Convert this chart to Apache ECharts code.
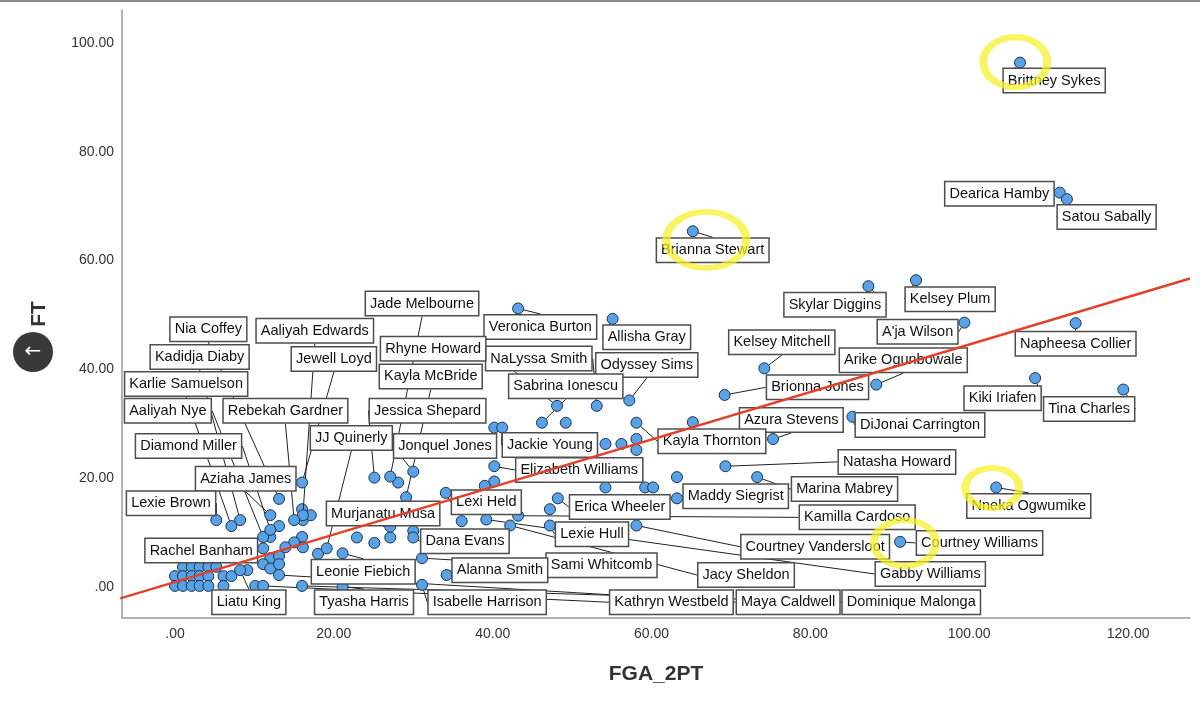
<!DOCTYPE html>
<html>
<head>
<meta charset="utf-8">
<script src="https://cdn.jsdelivr.net/npm/echarts@6/dist/echarts.min.js"></script>
<style>
html,body{margin:0;padding:0;background:#fff;}
#chart{width:1200px;height:708px;}
</style>
</head>
<body>
<div id="chart"></div>
<script>
// ---------- DATA ----------
const labeledNames = [
  "Brittney Sykes","Dearica Hamby","Satou Sabally","Brianna Stewart","Skylar Diggins","Kelsey Plum",
  "A'ja Wilson","Napheesa Collier","Kelsey Mitchell","Arike Ogunbowale","Brionna Jones","Kiki Iriafen",
  "Tina Charles","Azura Stevens","DiJonai Carrington","Kayla Thornton","Natasha Howard","Marina Mabrey",
  "Maddy Siegrist","Kamilla Cardoso","Nneka Ogwumike","Courtney Vandersloot","Courtney Williams","Jacy Sheldon",
  "Gabby Williams","Maya Caldwell","Dominique Malonga","Kathryn Westbeld","Jade Melbourne","Veronica Burton",
  "Allisha Gray","NaLyssa Smith","Odyssey Sims","Sabrina Ionescu","Rhyne Howard","Kayla McBride",
  "Jessica Shepard","Jonquel Jones","Jackie Young","Elizabeth Williams","Lexi Held","Erica Wheeler",
  "Lexie Hull","Dana Evans","Sami Whitcomb","Alanna Smith","Isabelle Harrison","Murjanatu Musa",
  "Leonie Fiebich","Tyasha Harris","JJ Quinerly","Jewell Loyd","Aaliyah Edwards","Nia Coffey",
  "Kadidja Diaby","Karlie Samuelson","Aaliyah Nye","Rebekah Gardner","Diamond Miller","Aziaha James",
  "Lexie Brown","Rachel Banham","Liatu King"
];
const labeledFGA2PT = [
  106.4,111.4,112.3,65.2,87.3,93.3,
  99.4,113.4,74.2,88.3,69.2,108.3,
  119.4,75.3,85.3,58.1,69.3,73.3,
  63.2,43.2,103.4,58.1,91.3,42.2,
  39.2,13.1,16.0,11.1,27.1,43.2,
  55.1,53.1,57.2,46.2,48.1,29.1,
  25.1,30.0,41.2,40.2,34.1,48.2,
  47.2,30.0,31.1,34.2,31.1,27.1,
  21.1,21.1,19.1,16.0,16.1,13.1,
  8.2,7.1,11.1,15.0,12.0,12.0,
  5.2,11.1,8.2
];
const labeledFT = [
  96.4,72.5,71.3,65.4,55.3,56.4,
  48.6,48.5,40.2,37.2,35.3,38.4,
  36.3,27.2,31.3,30.2,22.2,20.2,
  16.3,13.1,18.3,11.3,8.3,11.3,
  12.4,2.2,0.2,0.2,20.3,51.2,
  49.3,33.3,34.3,30.2,33.3,16.5,
  20.1,21.2,29.3,22.2,17.3,16.3,
  11.3,9.1,5.3,2.2,0.4,11.1,
  6.2,0.1,7.1,19.2,13.2,16.2,
  12.3,11.2,9.2,12.3,10.5,13.2,
  12.3,7.1,3.1
];
// where each name box sits (centre, in axis units)
const labelBoxFGA2PT = [
  110.7,103.8,117.3,67.7,83.1,97.6,
  93.5,113.4,76.4,91.7,80.9,104.2,
  115.1,77.6,93.8,67.6,90.9,84.3,
  70.6,85.9,107.5,80.6,101.3,71.9,
  95.1,77.2,92.7,62.5,31.1,46.0,
  59.4,45.8,59.4,49.2,32.5,32.2,
  31.8,34.0,47.2,50.9,39.2,56.0,
  52.5,36.5,53.7,40.9,39.3,26.2,
  23.7,23.8,22.2,20.0,17.6,4.2,
  3.1,1.4,-0.9,13.9,1.7,8.9,
  -0.5,3.3,9.3
];
const labelBoxFT = [
  93.1,72.3,68.0,61.9,51.9,52.9,
  46.9,44.7,45.0,41.7,36.7,34.7,
  32.7,30.7,29.8,26.8,23.0,18.0,
  16.7,12.8,14.9,7.4,8.1,2.2,
  2.4,-2.8,-2.8,-2.8,52.1,47.8,
  45.9,42.0,40.8,36.9,43.8,38.7,
  32.4,25.9,26.1,21.5,15.6,14.7,
  9.7,8.4,4.0,3.1,-2.8,13.5,
  2.8,-2.8,27.4,41.9,47.1,47.4,
  42.3,37.3,32.4,32.4,25.9,19.9,
  15.4,6.7,-2.8
];
const otherFGA2PT = [
  1,2.1,3.1,4.2,5.2,
  0,1,2.1,3.1,4.2,6.1,7.1,9.1,
  0,1,2.1,3.1,4.2,6.1,10.1,
  16.0,16.1,17.1,13.1,12.0,16.0,15.0,16.1,13.9,
  12.0,13.1,11.1,12.0,13.1,18.0,22.9,25.1,27.1,30.0,
  28.1,36.1,40.2,49.2,54.2,56.2,58.1,58.1,40.2,39.0,
  63.2,54.2,59.2,60.2,47.2,65.2
];
const otherFT = [
  3.7,3.7,3.7,3.7,3.7,
  2.0,2.0,2.0,2.0,2.0,2.0,2.0,3.1,
  0.2,0.2,0.2,0.2,0.2,0.2,0.2,
  14.3,12.3,13.2,11.2,9.2,9.2,8.2,7.3,7.3,
  5.3,5.7,4.2,3.4,4.2,6.1,9.1,8.1,9.1,10.3,
  19.2,12.1,29.3,30.2,26.3,26.3,27.2,25.2,19.4,18.6,
  20.2,18.3,18.3,18.3,14.3,30.3
];
const fitLineFGA2PT = [-6.9, 127.8];
const fitLineFT = [-2.1, 56.7];
// hand-drawn yellow marks (centres, axis units)
const markFGA2PT = [105.8, 66.9, 102.9, 91.9];
const markFT = [96.5, 63.8, 18.2, 8.1];
const xTicks = [0,20,40,60,80,100,120];
const yTicks = [0,20,40,60,80,100];

// ---------- CHART ----------
const X_MIN = -6.675, X_MAX = 127.8, Y_MIN = -5.7, Y_MAX = 106.07;
const GRID = {left:122, right:10, top:10, bottom:90};
const chart = echarts.init(document.getElementById('chart'), null, {renderer:'canvas'});

function fmt(v){ return v === 0 ? '.00' : v.toFixed(2); }
function toPx(x, y){
  try {
    const p = chart.convertToPixel({gridIndex:0}, [x, y]);
    if (p && isFinite(p[0]) && isFinite(p[1])) return p;
  } catch(e) {}
  const w = 1200 - GRID.left - GRID.right, h = 708 - GRID.top - GRID.bottom;
  return [GRID.left + (x - X_MIN)/(X_MAX - X_MIN)*w, GRID.top + (Y_MAX - y)/(Y_MAX - Y_MIN)*h];
}

const font = '"Liberation Sans", Arial, sans-serif';
const pointStyle = {color:'#58a2e5', borderColor:'#1c3550', borderWidth:1, opacity:1};

const option = {
  animation:false,
  backgroundColor:'#ffffff',
  grid: GRID,
  xAxis: {
    type:'value', min:X_MIN, max:X_MAX, splitNumber:6,
    name:'FGA_2PT', nameLocation:'middle', nameGap:46,
    nameTextStyle:{fontFamily:font, fontSize:21, fontWeight:'bold', color:'#333'},
    axisLine:{show:true, onZero:false, lineStyle:{color:'#9a9a9a', width:1.5}},
    axisTick:{show:false}, splitLine:{show:false},
    axisLabel:{fontFamily:font, fontSize:14, color:'#333', margin:9,
      showMinLabel:false, showMaxLabel:false,
      formatter: v => xTicks.indexOf(Math.round(v*100)/100) >= 0 ? fmt(v) : ''}
  },
  yAxis: {
    type:'value', min:Y_MIN, max:Y_MAX, splitNumber:5,
    name:'FT', nameLocation:'middle', nameGap:72, nameRotate:90,
    nameTextStyle:{fontFamily:font, fontSize:21, fontWeight:'bold', color:'#333'},
    axisLine:{show:true, onZero:false, lineStyle:{color:'#9a9a9a', width:1.5}},
    axisTick:{show:false}, splitLine:{show:false},
    axisLabel:{fontFamily:font, fontSize:14, color:'#333', margin:8,
      showMinLabel:false, showMaxLabel:false,
      formatter: v => yTicks.indexOf(Math.round(v*100)/100) >= 0 ? fmt(v) : ''}
  },
  series: [
    {
      type:'scatter', name:'others', z:2,
      symbol:'circle', symbolSize:11,
      itemStyle: pointStyle,
      data: otherFGA2PT.map((x,i)=>[x, otherFT[i]])
    },
    {
      type:'scatter', name:'players', z:3,
      symbol:'circle', symbolSize:11,
      itemStyle: pointStyle,
      data: labeledNames.map((n,i)=>({name:n, value:[labeledFGA2PT[i], labeledFT[i]]})),
      label:{
        show:true, formatter:'{b}', fontFamily:font, fontSize:14.5, color:'#111',
        backgroundColor:'#ffffff', borderColor:'#4d4d4d', borderWidth:1.5,
        padding:[3,4,3,4], lineHeight:17
      },
      labelLine:{show:true, length2:0, lineStyle:{color:'#222', width:1}},
      labelLayout: function(params){
        const i = params.dataIndex;
        const p = toPx(labelBoxFGA2PT[i], labelBoxFT[i]);
        return {x:p[0], y:p[1], align:'center', verticalAlign:'middle'};
      },
      emphasis:{disabled:true}
    },
    {
      type:'line', name:'fit', z:10, symbol:'none', silent:true,
      lineStyle:{color:'#e2412a', width:2.5},
      data: fitLineFGA2PT.map((x,i)=>[x, fitLineFT[i]])
    },
    {
      type:'scatter', name:'marks', z:20, silent:true,
      symbol:'circle',
      symbolSize: function(v, p){ return [[64,50],[80,56],[54,40],[62,46]][p.dataIndex]; },
      itemStyle:{color:'rgba(0,0,0,0)', borderColor:'rgba(245,240,40,0.9)', borderWidth:7},
      data: markFGA2PT.map((x,i)=>[x, markFT[i]])
    }
  ],
  graphic: [
    {type:'rect', left:0, top:0, z:100, shape:{width:1200, height:2}, style:{fill:'#8a8a8a'}},
    {type:'circle', z:100, shape:{cx:33, cy:352, r:20}, style:{fill:'rgba(30,30,30,0.88)'}},
    {type:'text', z:101, x:33, y:352, style:{text:'←', fill:'#fff', fontSize:20, fontFamily:'DejaVu Sans', align:'center', verticalAlign:'middle'}}
  ]
};
chart.setOption(option);
</script>
</body>
</html>
